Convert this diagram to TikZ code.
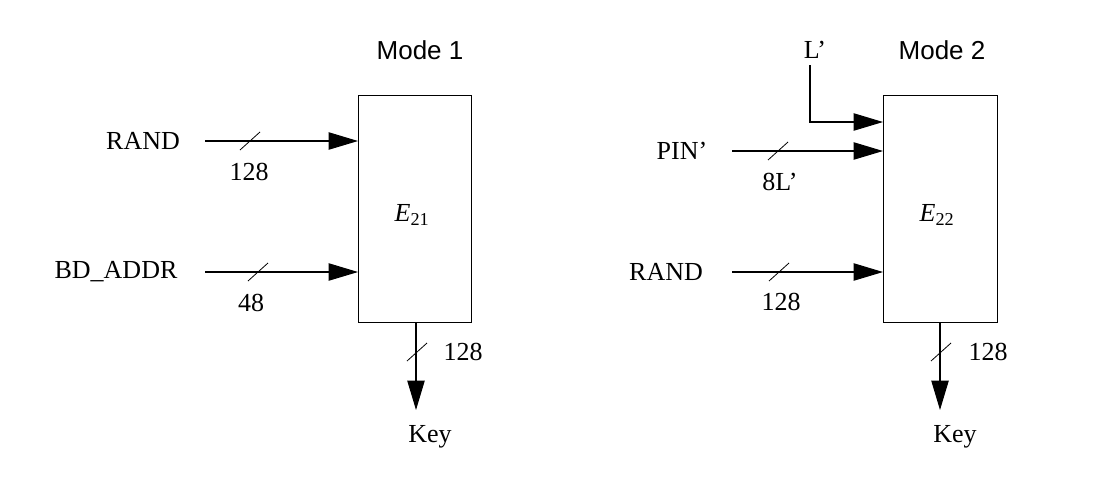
\documentclass[tikz,border=0pt]{standalone}
\usepackage{fontspec}
\setmainfont{Liberation Serif}
\newfontfamily\sansf{Liberation Sans}
\usetikzlibrary{arrows.meta}
\begin{document}
\begin{tikzpicture}[x=0.75pt,y=-0.75pt,
  lab/.style={font=\fontsize{19.5}{22}\selectfont},
  ttl/.style={font=\sansf\fontsize{19.5}{22}\selectfont},
  box/.style={draw,line width=0.8pt},
  arr/.style={line width=0.8pt,-{Triangle[length=22pt,width=13pt]}},
  sl/.style={line width=0.6pt}]
\useasboundingbox (0,0) rectangle (1098,479);
% Mode 1
\node[box,minimum width=84.75pt,minimum height=170.25pt,anchor=north west] (b1) at (358,95) {};
\node[lab] (e1) at (412,215) {\textit{E}\textsubscript{21}};
\node[ttl] (m1) at (420,50) {Mode 1};
\node[lab] (r1) at (143,141) {RAND};
\node[lab] (bd) at (116,272) {BD\_ADDR};
\coordinate (r1s) at (205,141);
\coordinate (bds) at (205,272);
\draw[arr] (r1s) -- (b1.west |- r1s);
\draw[arr] (bds) -- (b1.west |- bds);
\draw[sl] (240,150) -- (260,132);
\draw[sl] (248,281) -- (268,263);
\node[lab] (n1) at (249,172) {128};
\node[lab] (n2) at (251,303) {48};
\coordinate (o1) at (416,322);
\node[lab] (k1) at (430,437) {Key};
\coordinate (o1e) at (416,410);
\draw[arr] (o1) -- (o1e);
\draw[sl] (407,361) -- (427,343);
\node[lab] (n3) at (463,352) {128};
% Mode 2
\node[box,minimum width=85.5pt,minimum height=170.25pt,anchor=north west] (b2) at (883,95) {};
\node[lab] (e2) at (937,215) {\textit{E}\textsubscript{22}};
\node[ttl] (m2) at (942,50) {Mode 2};
\node[lab] (l) at (815,50) {L’};
\node[lab] (pin) at (682,151) {PIN’};
\node[lab] (r2) at (666,272) {RAND};
\coordinate (ls) at (810,65);
\coordinate (pins) at (732,151);
\coordinate (r2s) at (732,272);
\draw[arr] (ls) |- (b2.west |- 0,122);
\draw[arr] (pins) -- (b2.west |- pins);
\draw[arr] (r2s) -- (b2.west |- r2s);
\draw[sl] (768,160) -- (788,142);
\draw[sl] (769,281) -- (789,263);
\node[lab] (n4) at (780,182) {8L’};
\node[lab] (n5) at (781,302) {128};
\coordinate (o2) at (940,322);
\coordinate (o2e) at (940,410);
\draw[arr] (o2) -- (o2e);
\draw[sl] (931,361) -- (951,343);
\node[lab] (n6) at (988,352) {128};
\node[lab] (k2) at (955,437) {Key};
\end{tikzpicture}
\end{document}
